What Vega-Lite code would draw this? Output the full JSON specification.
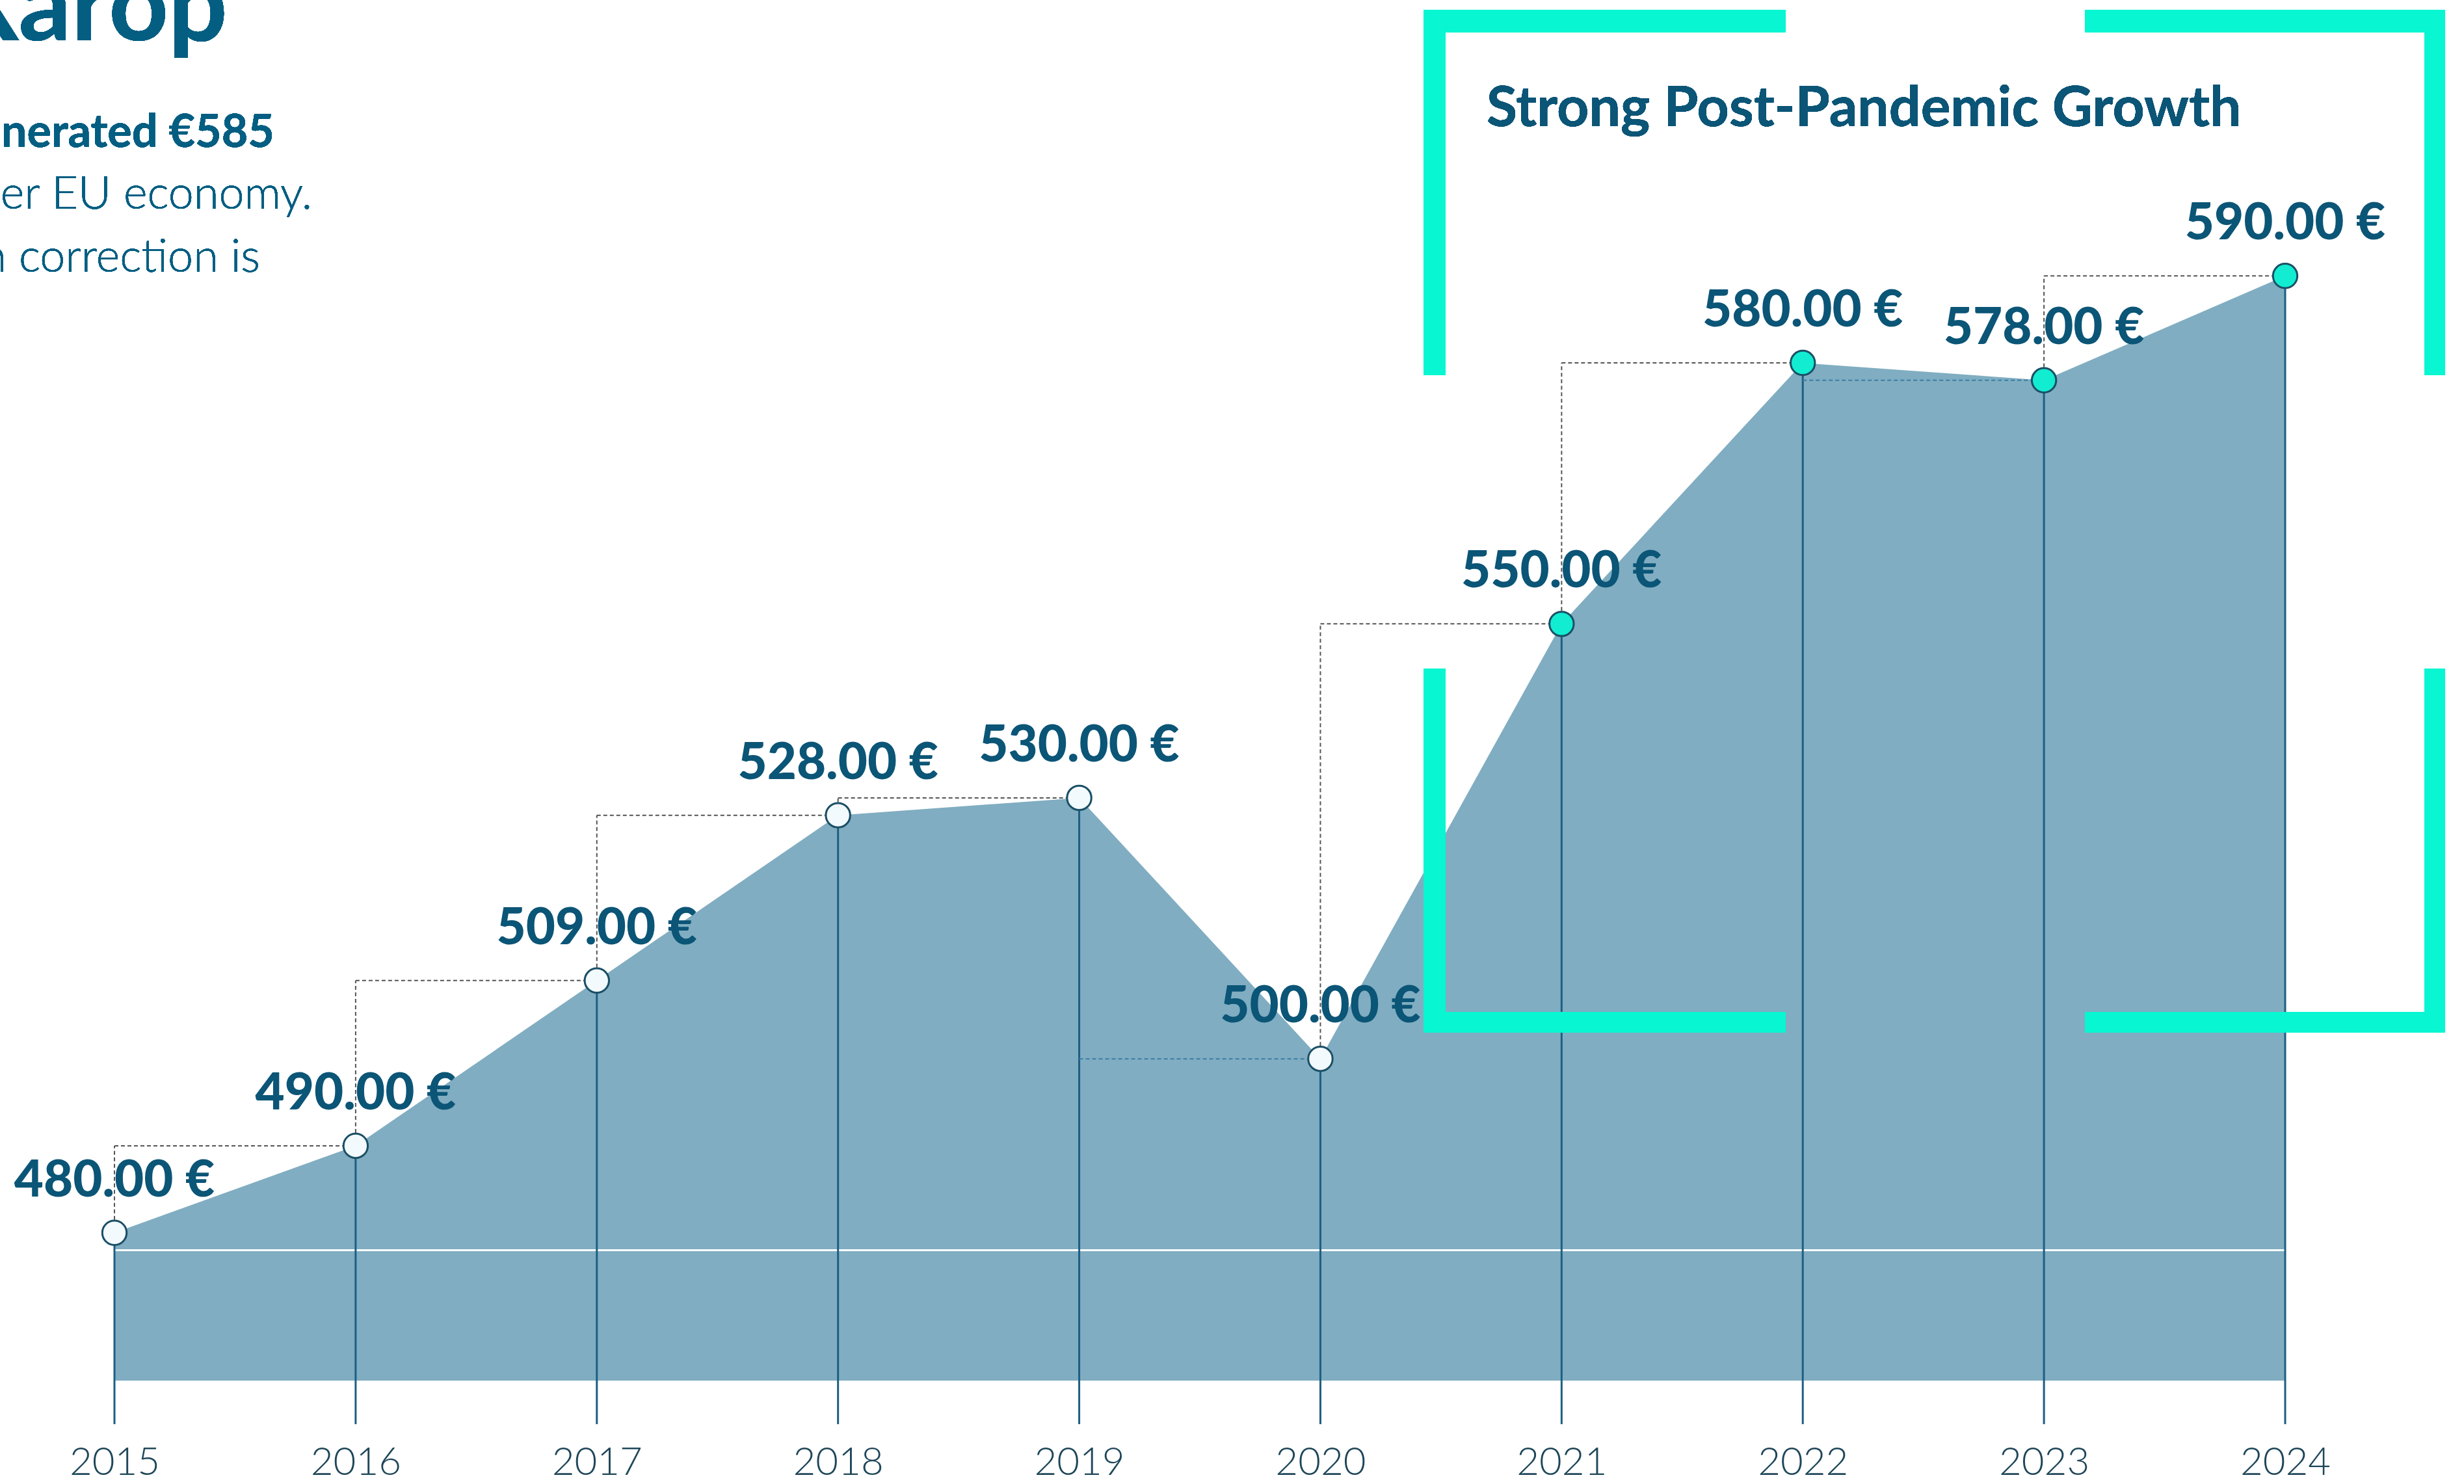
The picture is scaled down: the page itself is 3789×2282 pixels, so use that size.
{
  "$schema": "https://vega.github.io/schema/vega-lite/v6.json",
  "autosize": {"type": "none"},
  "width": 3338,
  "height": 2167,
  "padding": {"left": 176, "top": 23, "right": 275, "bottom": 92},
  "background": "#ffffff",
  "config": {
    "view": {"stroke": null},
    "axisY": {"disable": true},
    "axisX": {
      "domain": false, "ticks": false, "tickSize": 0, "grid": false,
      "labelFont": "Lato", "labelFontSize": 60, "labelFontWeight": 300,
      "labelColor": "#1e4659", "labelBaseline": "alphabetic", "labelPadding": 77,
      "labelFlush": false, "labelOverlap": false
    }
  },
  "data": {
    "values": [
      {"year": 2015, "value": 480, "prev_year": null, "prev_value": null, "label": "480.00 €"},
      {"year": 2016, "value": 490, "prev_year": 2015, "prev_value": 480, "label": "490.00 €"},
      {"year": 2017, "value": 509, "prev_year": 2016, "prev_value": 490, "label": "509.00 €"},
      {"year": 2018, "value": 528, "prev_year": 2017, "prev_value": 509, "label": "528.00 €"},
      {"year": 2019, "value": 530, "prev_year": 2018, "prev_value": 528, "label": "530.00 €"},
      {"year": 2020, "value": 500, "prev_year": 2019, "prev_value": 530, "label": "500.00 €"},
      {"year": 2021, "value": 550, "prev_year": 2020, "prev_value": 500, "label": "550.00 €"},
      {"year": 2022, "value": 580, "prev_year": 2021, "prev_value": 550, "label": "580.00 €"},
      {"year": 2023, "value": 578, "prev_year": 2022, "prev_value": 580, "label": "578.00 €"},
      {"year": 2024, "value": 590, "prev_year": 2023, "prev_value": 578, "label": "590.00 €"}
    ]
  },
  "layer": [
    {
      "mark": {"type": "area", "color": "#80adc1", "opacity": 1},
      "encoding": {
        "x": {"field": "year", "type": "quantitative", "title": null,
              "scale": {"domain": [2015, 2024], "nice": false, "zero": false},
              "axis": {"values": [2015, 2016, 2017, 2018, 2019, 2020, 2021, 2022, 2023, 2024], "format": "d", "title": null}},
        "y": {"field": "value", "type": "quantitative", "title": null,
              "scale": {"domain": [458, 620], "nice": false, "zero": false}, "axis": null},
        "y2": {"datum": 463}
      }
    },
    {
      "mark": {"type": "rule", "color": "#ffffff", "strokeWidth": 3, "opacity": 0.85},
      "encoding": {
        "x": {"datum": 2015, "type": "quantitative"},
        "x2": {"datum": 2024},
        "y": {"datum": 478, "type": "quantitative"}
      }
    },
    {
      "mark": {"type": "rule", "color": "#1d5f82", "strokeWidth": 3},
      "encoding": {
        "x": {"field": "year", "type": "quantitative", "title": null},
        "y": {"field": "value", "type": "quantitative", "title": null},
        "y2": {"datum": 458}
      }
    },
    {
      "transform": [{"filter": "datum.prev_year != null && datum.value > datum.prev_value"}],
      "mark": {"type": "rule", "color": "#555555", "strokeWidth": 2, "strokeDash": [6, 4]},
      "encoding": {
        "x": {"field": "prev_year", "type": "quantitative", "title": null},
        "y": {"field": "prev_value", "type": "quantitative", "title": null},
        "y2": {"field": "value"}
      }
    },
    {
      "transform": [{"filter": "datum.prev_year != null"}],
      "mark": {"type": "rule", "strokeWidth": 2, "strokeDash": [6, 4]},
      "encoding": {
        "x": {"field": "prev_year", "type": "quantitative", "title": null},
        "x2": {"field": "year"},
        "y": {"field": "value", "type": "quantitative", "title": null},
        "color": {"condition": {"test": "datum.value < datum.prev_value", "value": "#3a7ea6"}, "value": "#555555"}
      }
    },
    {
      "mark": {"type": "rect", "color": "#08f6d2"},
      "encoding": {"x": {"datum": 2020.428, "type": "quantitative"}, "x2": {"datum": 2021.929}, "y": {"datum": 620.6, "type": "quantitative"}, "y2": {"datum": 617.98}}
    },
    {
      "mark": {"type": "rect", "color": "#08f6d2"},
      "encoding": {"x": {"datum": 2020.428, "type": "quantitative"}, "x2": {"datum": 2020.519}, "y": {"datum": 620.6, "type": "quantitative"}, "y2": {"datum": 578.58}}
    },
    {
      "mark": {"type": "rect", "color": "#08f6d2"},
      "encoding": {"x": {"datum": 2023.17, "type": "quantitative"}, "x2": {"datum": 2024.663}, "y": {"datum": 620.6, "type": "quantitative"}, "y2": {"datum": 617.98}}
    },
    {
      "mark": {"type": "rect", "color": "#08f6d2"},
      "encoding": {"x": {"datum": 2024.577, "type": "quantitative"}, "x2": {"datum": 2024.663}, "y": {"datum": 620.6, "type": "quantitative"}, "y2": {"datum": 578.58}}
    },
    {
      "mark": {"type": "rect", "color": "#08f6d2"},
      "encoding": {"x": {"datum": 2020.428, "type": "quantitative"}, "x2": {"datum": 2020.519}, "y": {"datum": 544.87, "type": "quantitative"}, "y2": {"datum": 503.0}}
    },
    {
      "mark": {"type": "rect", "color": "#08f6d2"},
      "encoding": {"x": {"datum": 2020.428, "type": "quantitative"}, "x2": {"datum": 2021.929}, "y": {"datum": 505.4, "type": "quantitative"}, "y2": {"datum": 503.0}}
    },
    {
      "mark": {"type": "rect", "color": "#08f6d2"},
      "encoding": {"x": {"datum": 2024.577, "type": "quantitative"}, "x2": {"datum": 2024.663}, "y": {"datum": 544.87, "type": "quantitative"}, "y2": {"datum": 503.0}}
    },
    {
      "mark": {"type": "rect", "color": "#08f6d2"},
      "encoding": {"x": {"datum": 2023.17, "type": "quantitative"}, "x2": {"datum": 2024.663}, "y": {"datum": 505.4, "type": "quantitative"}, "y2": {"datum": 503.0}}
    },
    {
      "mark": {"type": "point", "filled": true, "size": 1400, "stroke": "#1b4f66", "strokeWidth": 3, "opacity": 1},
      "encoding": {
        "x": {"field": "year", "type": "quantitative", "title": null},
        "y": {"field": "value", "type": "quantitative", "title": null},
        "fill": {"condition": {"test": "datum.year >= 2021", "value": "#12ecd0"}, "value": "#f3fafd"}
      }
    },
    {
      "mark": {"type": "text", "font": "Lato", "fontSize": 78, "fontWeight": 900, "color": "#0b5577", "baseline": "alphabetic", "align": "center", "dy": -56},
      "encoding": {
        "x": {"field": "year", "type": "quantitative", "title": null},
        "y": {"field": "value", "type": "quantitative", "title": null},
        "text": {"field": "label"}
      }
    },
    {
      "mark": {"type": "text", "font": "Lato", "fontSize": 86, "fontWeight": 700, "color": "#0b5577", "baseline": "alphabetic", "align": "left", "text": "Strong Post-Pandemic Growth"},
      "encoding": {"x": {"datum": 2020.689, "type": "quantitative"}, "y": {"datum": 607.2, "type": "quantitative"}}
    },
    {
      "mark": {"type": "text", "font": "Lato", "fontSize": 160, "fontWeight": 700, "color": "#035e82", "baseline": "alphabetic", "align": "right", "text": "Xarop"},
      "encoding": {"x": {"datum": 2015.469, "type": "quantitative"}, "y": {"datum": 617.1, "type": "quantitative"}}
    },
    {
      "mark": {"type": "text", "font": "Lato", "fontSize": 70, "fontWeight": 700, "color": "#035e82", "baseline": "alphabetic", "align": "right", "text": "generated €585"},
      "encoding": {"x": {"datum": 2015.663, "type": "quantitative"}, "y": {"datum": 604.8, "type": "quantitative"}}
    },
    {
      "mark": {"type": "text", "font": "Lato", "fontSize": 70, "fontWeight": 300, "color": "#035e82", "baseline": "alphabetic", "align": "right", "text": "wider EU economy."},
      "encoding": {"x": {"datum": 2015.82, "type": "quantitative"}, "y": {"datum": 597.7, "type": "quantitative"}}
    },
    {
      "mark": {"type": "text", "font": "Lato", "fontSize": 70, "fontWeight": 300, "color": "#035e82", "baseline": "alphabetic", "align": "right", "text": "growth correction is"},
      "encoding": {"x": {"datum": 2015.604, "type": "quantitative"}, "y": {"datum": 590.5, "type": "quantitative"}}
    }
  ]
}
